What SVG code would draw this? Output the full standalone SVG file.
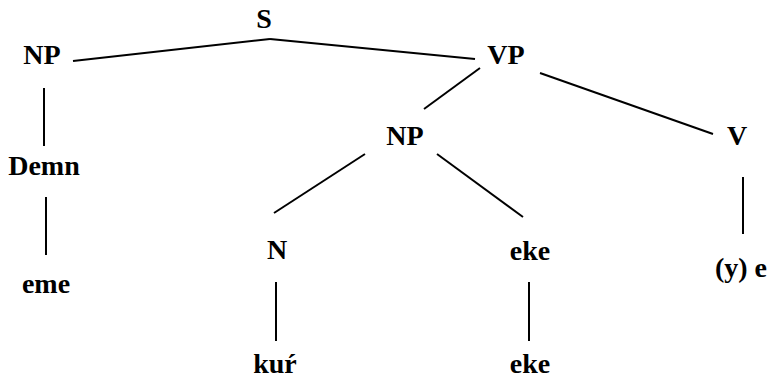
<svg xmlns="http://www.w3.org/2000/svg" width="773" height="380" viewBox="0 0 773 380">
<style>
.t{font-family:'Liberation Serif','Times New Roman','DejaVu Serif',serif;font-weight:700;font-size:28px;fill:#000;text-anchor:middle}
line{stroke:#000;stroke-width:2}
</style>
<rect width="773" height="380" fill="#fff"/>
<g id="connectors">
<line x1="73" y1="61" x2="270" y2="39"/>
<line x1="270" y1="39" x2="475" y2="59"/>
<line x1="44" y1="88" x2="44" y2="146"/>
<line x1="46" y1="197" x2="46" y2="255"/>
<line x1="480" y1="68" x2="424" y2="109"/>
<line x1="540" y1="73" x2="713" y2="134"/>
<line x1="365" y1="154" x2="274" y2="213"/>
<line x1="437" y1="154" x2="523" y2="217"/>
<line x1="743" y1="177" x2="743" y2="234"/>
<line x1="276" y1="282" x2="276" y2="341"/>
<line x1="529" y1="282" x2="529" y2="341"/>
</g>
<g id="S"><text class="t" x="264" y="28">S</text></g>
<g id="NP1"><text class="t" x="42" y="64">NP</text></g>
<g id="VP"><text class="t" x="506" y="64">VP</text></g>
<g id="Demn"><text class="t" x="44" y="175">Demn</text></g>
<g id="NP2"><text class="t" x="405" y="145">NP</text></g>
<g id="V"><text class="t" x="737" y="145">V</text></g>
<g id="eme"><text class="t" x="46" y="293">eme</text></g>
<g id="N"><text class="t" x="277" y="259">N</text></g>
<g id="eke1"><text class="t" x="530" y="260">eke</text></g>
<g id="ye"><text class="t" x="741" y="277">(y) e</text></g>
<g id="kur"><text class="t" x="275" y="373">kuŕ</text></g>
<g id="eke2"><text class="t" x="530" y="373">eke</text></g>
</svg>
